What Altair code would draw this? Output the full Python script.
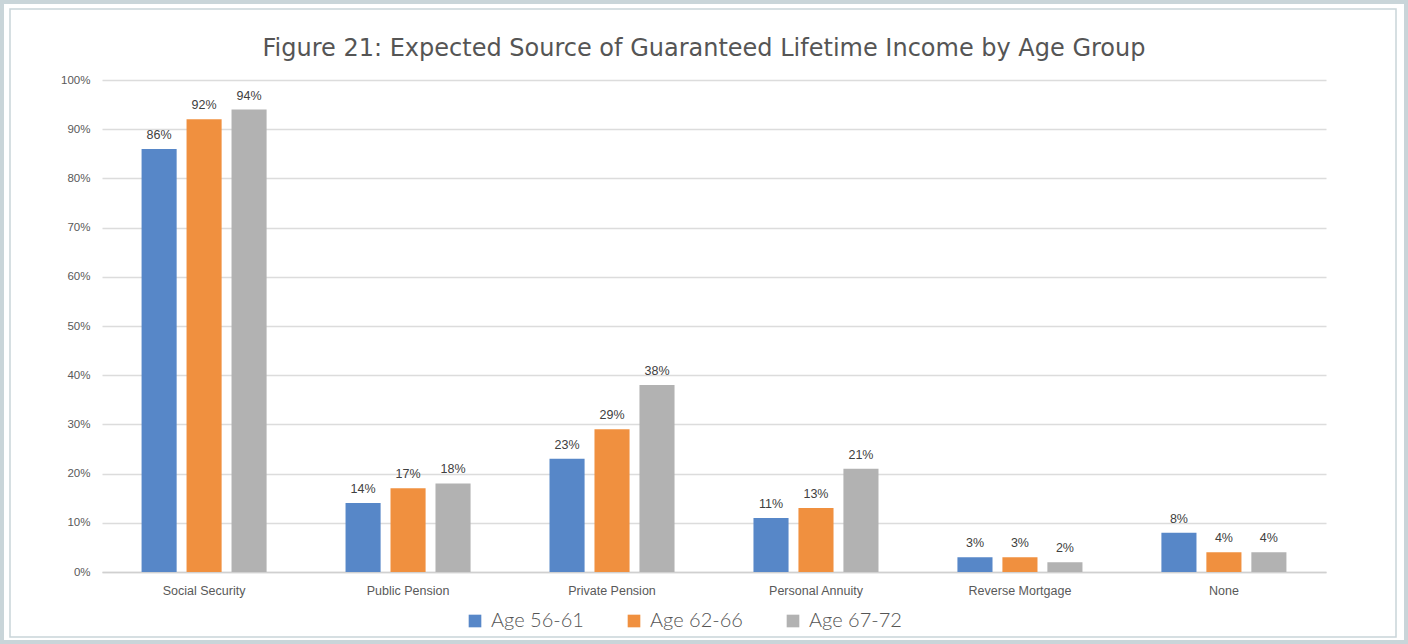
import altair as alt
import pandas as pd

categories = ["Social Security", "Public Pension", "Private Pension", "Personal Annuity", "Reverse Mortgage", "None"]
groups = ["Age 56-61", "Age 62-66", "Age 67-72"]
age_56_61 = [86, 14, 23, 11, 3, 8]
age_62_66 = [92, 17, 29, 13, 3, 4]
age_67_72 = [94, 18, 38, 21, 2, 4]
colors = ["#5787C8", "#F0903F", "#B2B2B2"]

rows = []
for series_name, vals in zip(groups, [age_56_61, age_62_66, age_67_72]):
    for c, v in zip(categories, vals):
        rows.append({"category": c, "group": series_name, "value": v, "label": f"{v}%"})
df = pd.DataFrame(rows)

W, H = 1224, 492

x_enc = alt.X("category:N", sort=categories,
              scale=alt.Scale(paddingInner=0.387, paddingOuter=0.194),
              axis=alt.Axis(title=None, labelAngle=0, labelFontSize=12.5, labelColor="#595959",
                            labelFont="Liberation Sans", ticks=False, domainColor="#d0d0d0",
                            domainWidth=1.5, labelPadding=12))
xoff = alt.XOffset("group:N", sort=groups, scale=alt.Scale(paddingInner=0.22, paddingOuter=0))
y_enc = alt.Y("value:Q", scale=alt.Scale(domain=[0, 100]),
              axis=alt.Axis(title=None, values=list(range(0, 101, 10)), labelExpr="datum.value + '%'",
                            labelFontSize=11.5, labelColor="#595959", labelFont="Liberation Sans",
                            ticks=False, domain=False, gridColor="#dcdcdc", gridWidth=1.5,
                            labelPadding=12))

bars = alt.Chart(df).mark_bar().encode(
    x=x_enc, xOffset=xoff, y=y_enc,
    color=alt.Color("group:N", sort=groups, scale=alt.Scale(domain=groups, range=colors),
                    legend=alt.Legend(title=None, orient="none", legendX=363, legendY=531,
                                      direction="horizontal", symbolType="square", symbolSize=160,
                                      symbolStrokeWidth=0, labelFontSize=20, labelColor="#555555",
                                      labelFont="Lato", labelFontWeight=300, columnPadding=40,
                                      symbolOffset=0, labelOffset=6))
)

labels = alt.Chart(df).mark_text(dy=-14, fontSize=12.5, color="#404040", font="Liberation Sans").encode(
    x=alt.X("category:N", sort=categories), xOffset=alt.XOffset("group:N", sort=groups),
    y="value:Q", text="label:N"
)

outer = alt.Chart(pd.DataFrame({"k": ["outer"]})).mark_rect(
    fill=None, stroke="#c9d5d9", strokeWidth=4).encode(
    x=alt.value(-100), x2=alt.value(1304), y=alt.value(-78), y2=alt.value(562))
inner = alt.Chart(pd.DataFrame({"k": ["inner"]})).mark_rect(
    fill=None, stroke="#c9d5d9", strokeWidth=1.5).encode(
    x=alt.value(-92), x2=alt.value(1294), y=alt.value(-71), y2=alt.value(557))

chart = alt.layer(bars, labels, outer, inner).properties(
    width=W, height=H,
    title=alt.TitleParams("Figure 21: Expected Source of Guaranteed Lifetime Income by Age Group",
                          fontSize=24, font="DejaVu Sans", fontWeight="normal", color="#555555",
                          anchor="middle", offset=22, dx=-10, dy=83),
    autosize=alt.AutoSizeParams(type="none"),
    padding={"left": 102, "top": 80, "right": 82, "bottom": 72},
    background="white",
).configure_view(stroke=None)

chart.save("out.html", embed_options={"renderer": "svg", "actions": False})
